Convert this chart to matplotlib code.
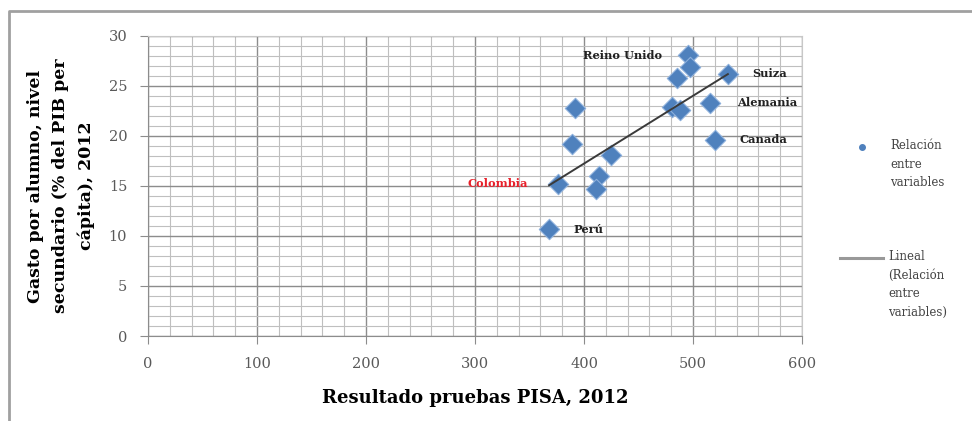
import numpy as np
import matplotlib.pyplot as plt
from matplotlib.lines import Line2D
from matplotlib.ticker import MultipleLocator

# puntaje PISA 2012 vs gasto por alumno secundaria (% PIB per cápita)
pisa = [495, 497, 485, 532, 481, 488, 516, 520, 392, 389, 425, 414, 411, 376, 368]
gasto = [28.1, 26.9, 25.8, 26.2, 22.9, 22.6, 23.3, 19.6, 22.8, 19.2, 18.1, 16.0, 14.7, 15.2, 10.7]

etiquetas = ["Reino Unido", "Suiza", "Alemania", "Canada", "Colombia", "Perú"]
etiq_x = [399, 554, 540, 543, 293, 390]
etiq_y = [28.0, 26.2, 23.3, 19.6, 15.2, 10.6]
etiq_color = ["#222222", "#222222", "#222222", "#222222", "#e8202a", "#222222"]

serif = ["DejaVu Serif"]

fig = plt.figure(figsize=(9.72, 4.21), dpi=100)
ax = fig.add_axes([0.1523, 0.2019, 0.6728, 0.7126])

ax.set_xlim(0, 600)
ax.set_ylim(0, 30)
ax.xaxis.set_major_locator(MultipleLocator(100))
ax.xaxis.set_minor_locator(MultipleLocator(20))
ax.yaxis.set_major_locator(MultipleLocator(5))
ax.yaxis.set_minor_locator(MultipleLocator(1))
ax.grid(which="major", color="#8c8c8c", linewidth=1.0)
ax.grid(which="minor", color="#bfbfbf", linewidth=0.8)
ax.set_axisbelow(True)

for s in ["top", "right"]:
    ax.spines[s].set_color("#c8c8c8")
for s in ["left", "bottom"]:
    ax.spines[s].set_color("#8c8c8c")
ax.tick_params(which="major", direction="out", length=6, color="#8c8c8c",
               labelsize=10.5, labelcolor="#595959", pad=9)
ax.tick_params(which="minor", length=0)
for lbl in ax.get_xticklabels() + ax.get_yticklabels():
    lbl.set_family(serif)

ax.scatter(pisa, gasto, marker="D", s=108, color="#4f81bd",
           edgecolor="#8db0dc", linewidth=0.8, zorder=3)

# tendencia lineal
m, b = np.polyfit(pisa, gasto, 1)
xs = np.array([min(pisa), max(pisa)])
ax.plot(xs, m * xs + b, color="#3a3a3a", linewidth=1.4, zorder=4)

for t, x, y, c in zip(etiquetas, etiq_x, etiq_y, etiq_color):
    ax.text(x, y, t, fontsize=8.2, fontweight="bold", color=c, family=serif,
            ha="left", va="center", zorder=5)

ax.set_xlabel("Resultado pruebas PISA, 2012", fontsize=13, fontweight="bold",
              family=serif, labelpad=13)
ax.set_ylabel("Gasto por alumno, nivel\nsecundario (% del PIB per\ncápita), 2012",
              fontsize=12.5, fontweight="bold", family=serif, labelpad=10,
              linespacing=1.6)

# leyenda
fig.add_artist(Line2D([862 / 972], [1 - 147 / 421], marker="o", markersize=4,
                      color="#4f81bd", linestyle="none"))
fig.text(890 / 972, 1 - 139 / 421, "Relación\nentre\nvariables", fontsize=8.5,
         family=serif, color="#444444", va="top", ha="left", linespacing=1.55)
fig.add_artist(Line2D([840 / 972, 883 / 972], [1 - 258 / 421, 1 - 258 / 421],
                      color="#999999", linewidth=2.2))
fig.text(888 / 972, 1 - 250 / 421, "Lineal\n(Relación\nentre\nvariables)", fontsize=8.5,
         family=serif, color="#444444", va="top", ha="left", linespacing=1.55)

# marco exterior
fig.add_artist(Line2D([8.5 / 972, 8.5 / 972, 1], [0, 1 - 10.5 / 421, 1 - 10.5 / 421],
                      color="#a0a0a0", linewidth=2))

fig.savefig("out.png", dpi=100)
